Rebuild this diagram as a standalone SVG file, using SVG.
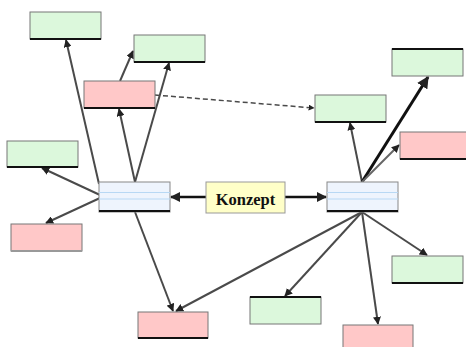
<svg xmlns="http://www.w3.org/2000/svg" width="466" height="347" viewBox="0 0 466 347">
<style>
.g{fill:#dcf8dc;stroke:#777;stroke-width:1}
.r{fill:#ffc8c8;stroke:#777;stroke-width:1}
.b{fill:#eef4fd;stroke:#888;stroke-width:1}
.bl{stroke:#b8d8f4;stroke-width:1}
.sh{stroke:#111;stroke-width:2}
.k{fill:#ffffc8;stroke:#999;stroke-width:1}
.c{stroke:#4a4a4a;stroke-width:2;fill:none;marker-end:url(#a)}
.t{font-family:"Liberation Serif",serif;font-weight:bold;font-size:16.5px;fill:#111}
</style>
<defs>
<marker id="a" viewBox="0 0 10 10" refX="9" refY="5" markerWidth="4" markerHeight="4" orient="auto" markerUnits="strokeWidth">
<path d="M0,0 L10,5 L0,10 z" fill="#222"/>
</marker>
</defs>
<g id="connectors">
<line class="c" x1="213" y1="197" x2="171" y2="197" style="stroke:#111;stroke-width:2.5"/>
<line class="c" x1="281" y1="197" x2="326" y2="197" style="stroke:#111;stroke-width:2.5"/>
<line class="c" x1="99" y1="184" x2="66" y2="40"/>
<line class="c" x1="100" y1="195" x2="42" y2="168"/>
<line class="c" x1="100" y1="198" x2="46" y2="223"/>
<line class="c" x1="135" y1="182" x2="119" y2="109"/>
<line class="c" x1="135" y1="182" x2="169" y2="63"/>
<line class="c" x1="120" y1="81" x2="133" y2="51"/>
<line class="c" x1="155" y1="95" x2="314" y2="108" style="stroke-dasharray:5,3;stroke-width:1.5"/>
<line class="c" x1="135" y1="212" x2="173" y2="311"/>
<line class="c" x1="362" y1="212" x2="176" y2="311"/>
<line class="c" x1="362" y1="182" x2="350" y2="123"/>
<line class="c" x1="362" y1="182" x2="428" y2="77" style="stroke:#111;stroke-width:3"/>
<line class="c" x1="362" y1="182" x2="399" y2="145" style="stroke:#666"/>
<line class="c" x1="362" y1="212" x2="285" y2="296"/>
<line class="c" x1="362" y1="212" x2="378" y2="324"/>
<line class="c" x1="362" y1="212" x2="427" y2="255"/>
</g>
<g id="n1"><rect class="g" x="30" y="12" width="71" height="27"/><line class="sh" x1="30" y1="39" x2="101" y2="39"/></g>
<g id="n2"><rect class="g" x="134" y="35" width="71" height="27"/><line class="sh" x1="134" y1="62" x2="205" y2="62"/></g>
<g id="n3"><rect class="r" x="84" y="81" width="71" height="27"/><line class="sh" x1="84" y1="108" x2="155" y2="108"/></g>
<g id="n4"><rect class="g" x="7" y="141" width="71" height="26"/><line class="sh" x1="7" y1="167" x2="78" y2="167"/></g>
<g id="n5"><rect class="r" x="11" y="224" width="71" height="27"/><line x1="11" y1="251" x2="82" y2="251" stroke="#999" stroke-width="2"/></g>
<g id="n6"><rect class="b" x="99" y="182" width="71" height="30"/><line class="bl" x1="99" y1="192.5" x2="170" y2="192.5"/><line class="bl" x1="99" y1="199" x2="170" y2="199"/><line class="sh" x1="99" y1="211" x2="170" y2="211"/></g>
<g id="n7"><rect class="k" x="206" y="182" width="79" height="31"/><text class="t" x="245.5" y="204.5" text-anchor="middle">Konzept</text></g>
<g id="n8"><rect class="b" x="327" y="182" width="71" height="30"/><line class="bl" x1="327" y1="192.5" x2="398" y2="192.5"/><line class="bl" x1="327" y1="199" x2="398" y2="199"/><line class="sh" x1="327" y1="211" x2="398" y2="211"/></g>
<g id="n9"><rect class="g" x="392" y="49" width="71" height="27"/><line class="sh" x1="392" y1="49" x2="463" y2="49"/></g>
<g id="n10"><rect class="g" x="315" y="95" width="71" height="27"/><line class="sh" x1="315" y1="122" x2="386" y2="122"/></g>
<g id="n11"><rect class="r" x="400" y="132" width="70" height="27"/><line class="sh" x1="400" y1="159" x2="466" y2="159"/></g>
<g id="n12"><rect class="g" x="392" y="256" width="71" height="27"/><line class="sh" x1="392" y1="283" x2="463" y2="283"/></g>
<g id="n13"><rect class="g" x="250" y="297" width="71" height="27"/><line class="sh" x1="250" y1="297" x2="321" y2="297"/></g>
<g id="n14"><rect class="r" x="138" y="312" width="70" height="26"/><line class="sh" x1="138" y1="338" x2="208" y2="338"/></g>
<g id="n15"><rect class="r" x="343" y="325" width="70" height="26"/></g>
</svg>
